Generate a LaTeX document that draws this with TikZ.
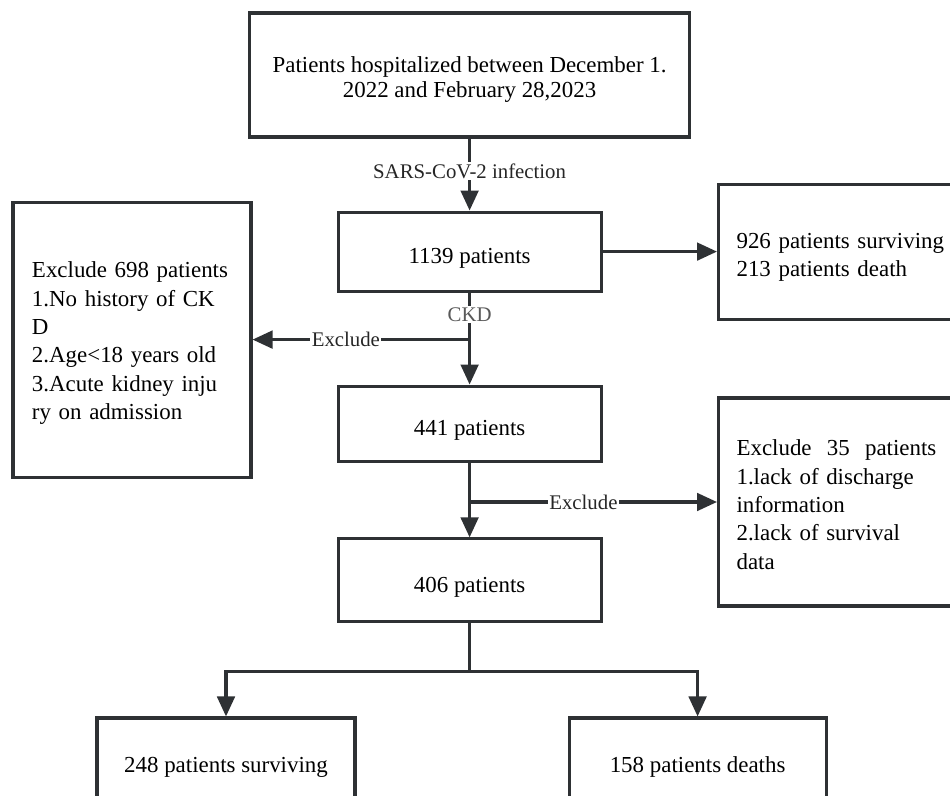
\documentclass[tikz,border=0pt]{standalone}
\usepackage{fontspec}
\setmainfont{Liberation Serif}
\usetikzlibrary{positioning, calc, arrows.meta}
\definecolor{linegray}{HTML}{2E3134}

\begin{document}
\begin{tikzpicture}[
  font=\fontsize{16.3}{20.2}\selectfont,
  box/.style     = {draw=linegray, line width=2.2pt, minimum width=6.575cm,
                    minimum height=1.975cm, align=center, inner sep=0pt,
                    text height=17.5pt, text depth=0pt},
  sidebox/.style = {draw=linegray, line width=2.2pt, align=left,
                    text width=5.35cm, inner xsep=0.45cm, inner ysep=0pt,
                    execute at begin node={\rule{0pt}{#1}}},
  sidebox/.default = 17pt,
  lbl/.style     = {fill=white, inner sep=1pt,
                    font=\fontsize{14.8}{17}\selectfont, text=black!85},
  link/.style    = {draw=linegray, line width=2.2pt},
  arr/.style     = {link, -{Triangle[length=5mm, width=4.4mm]}},
]
\useasboundingbox (0,0) rectangle (23.75,-19.9);

% =============================================================
% Main column
% =============================================================
\node[box, minimum width=11cm, minimum height=3.1cm, text height=, text depth=,
      font=\fontsize{16.3}{17.8}\selectfont] (start) at (11.74,-1.875)
  {\rule{0pt}{17.4pt}Patients hospitalized between December 1.\\
   2022 and February 28,2023};
\node[box] (n1139) at (11.74,-6.29) {1139 patients};
\node[box, minimum height=1.875cm] (n441) at (11.74,-10.59) {441 patients};
\node[box, minimum height=2.075cm] (n406) at (11.74,-14.51) {406 patients};

% =============================================================
% Side boxes
% =============================================================
\node[sidebox=19.4pt, minimum height=3.375cm, anchor=west] (outcome)
  at (17.925,-6.29)
  {926 patients surviving\\213 patients death};
\node[sidebox=16.6pt, text width=5.0cm, inner xsep=0.475cm, minimum height=6.875cm]
  (excl1) at (3.3,-8.49)
  {Exclude 698 patients\\1.No history of CK\\D\\2.Age<18 years old\\
   3.Acute kidney inju\\ry on admission};
\node[sidebox=15.2pt, minimum height=5.2cm, anchor=west] (excl2) at (17.925,-12.55)
  {Exclude\ \ 35\ \ patients\\1.lack of discharge\\information\\
   2.lack of survival\\data};

% --- outcome boxes at the bottom ---
\node[box, minimum width=6.45cm, minimum height=2.1cm] (surv) at (5.65,-19.0)
  {248 patients surviving};
\node[box, minimum width=6.425cm, minimum height=2.1cm] (dead) at (17.44,-19.0)
  {158 patients deaths};

% =============================================================
% Connectors
% =============================================================
\draw[arr] (start) -- node[lbl, pos=0.45] {SARS-CoV-2 infection} (n1139);
\draw[arr] (n1139) -- (outcome);
\draw[arr] (n1139) -- node[lbl, pos=0.24, text=black!65] {CKD} (n441);

\coordinate (cut1) at (n1139.south |- excl1.east);
\draw[arr] (cut1) -- node[lbl, pos=0.57] {Exclude} (excl1);

\draw[arr] (n441) -- (n406);
\coordinate (cut2) at (n441.south |- excl2.west);
\draw[arr] (cut2) -- node[lbl, pos=0.46] {Exclude} (excl2.west);

% split into the two outcomes
\coordinate (split) at ($(n406.south)+(0,-1.2)$);
\draw[link] (n406) -- (split);
\draw[arr] (split) -| (surv);
\draw[arr] (split) -| (dead);

\end{tikzpicture}
\end{document}
